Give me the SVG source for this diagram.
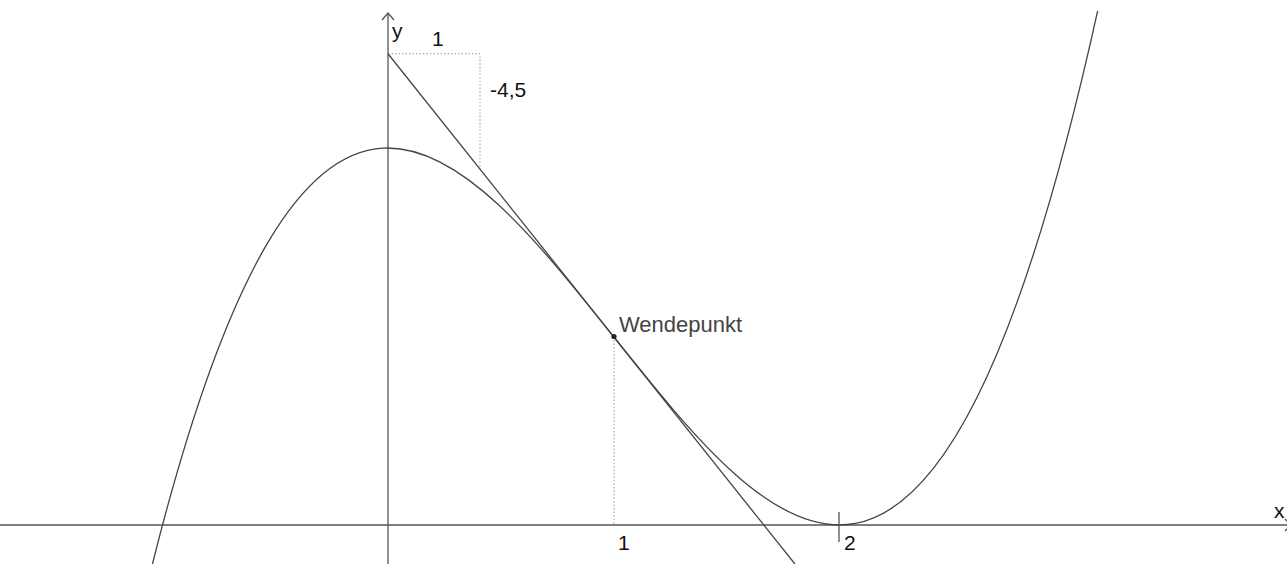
<svg xmlns="http://www.w3.org/2000/svg" width="1287" height="564" viewBox="0 0 1287 564">
  <style>
    .axis { stroke: #555; stroke-width: 1.3; fill: none; }
    .line { stroke: #444; stroke-width: 1.3; fill: none; }
    .dot { stroke: #999; stroke-width: 1; stroke-dasharray: 1.5 2; fill: none; }
    .lbl { font-family: "Liberation Sans", Arial, sans-serif; font-size: 21px; fill: #111; }
    .wp { font-family: "Liberation Sans", Arial, sans-serif; font-size: 22px; fill: #444; }
  </style>
  <rect x="0" y="0" width="1287" height="564" fill="#fff"/>
  <g id="axes">
    <line class="axis" x1="0" y1="525" x2="1292" y2="525"/>
    <polyline class="axis" points="1285,519 1291,525 1285,531"/>
    <line class="axis" x1="388" y1="564" x2="388" y2="13"/>
    <polyline class="axis" points="382,20 388,13 394,20"/>
    <line class="axis" x1="839" y1="512" x2="839" y2="542"/>
    <text class="lbl" x="1274" y="518">x</text>
    <text class="lbl" x="392" y="38">y</text>
    <text class="lbl" x="618" y="550">1</text>
    <text class="lbl" x="844" y="550">2</text>
  </g>
  <g id="helpers">
    <polyline class="dot" points="388,53.75 480,53.75 480,169"/>
    <line class="dot" x1="614" y1="336.5" x2="614" y2="525"/>
    <text class="lbl" x="432" y="46">1</text>
    <text class="lbl" x="490" y="97">-4,5</text>
  </g>
  <g id="graph">
    <path class="line" d="M152.35,564.33 C467.45,-692.88 782.55,1436.94 1097.65,10.79"/>
  </g>
  <g id="tangent">
    <line class="line" x1="388" y1="53.75" x2="794.9" y2="564"/>
  </g>
  <g id="wendepunkt">
    <circle cx="614" cy="336.5" r="2.6" fill="#222"/>
    <text class="wp" x="619" y="332">Wendepunkt</text>
  </g>
</svg>
